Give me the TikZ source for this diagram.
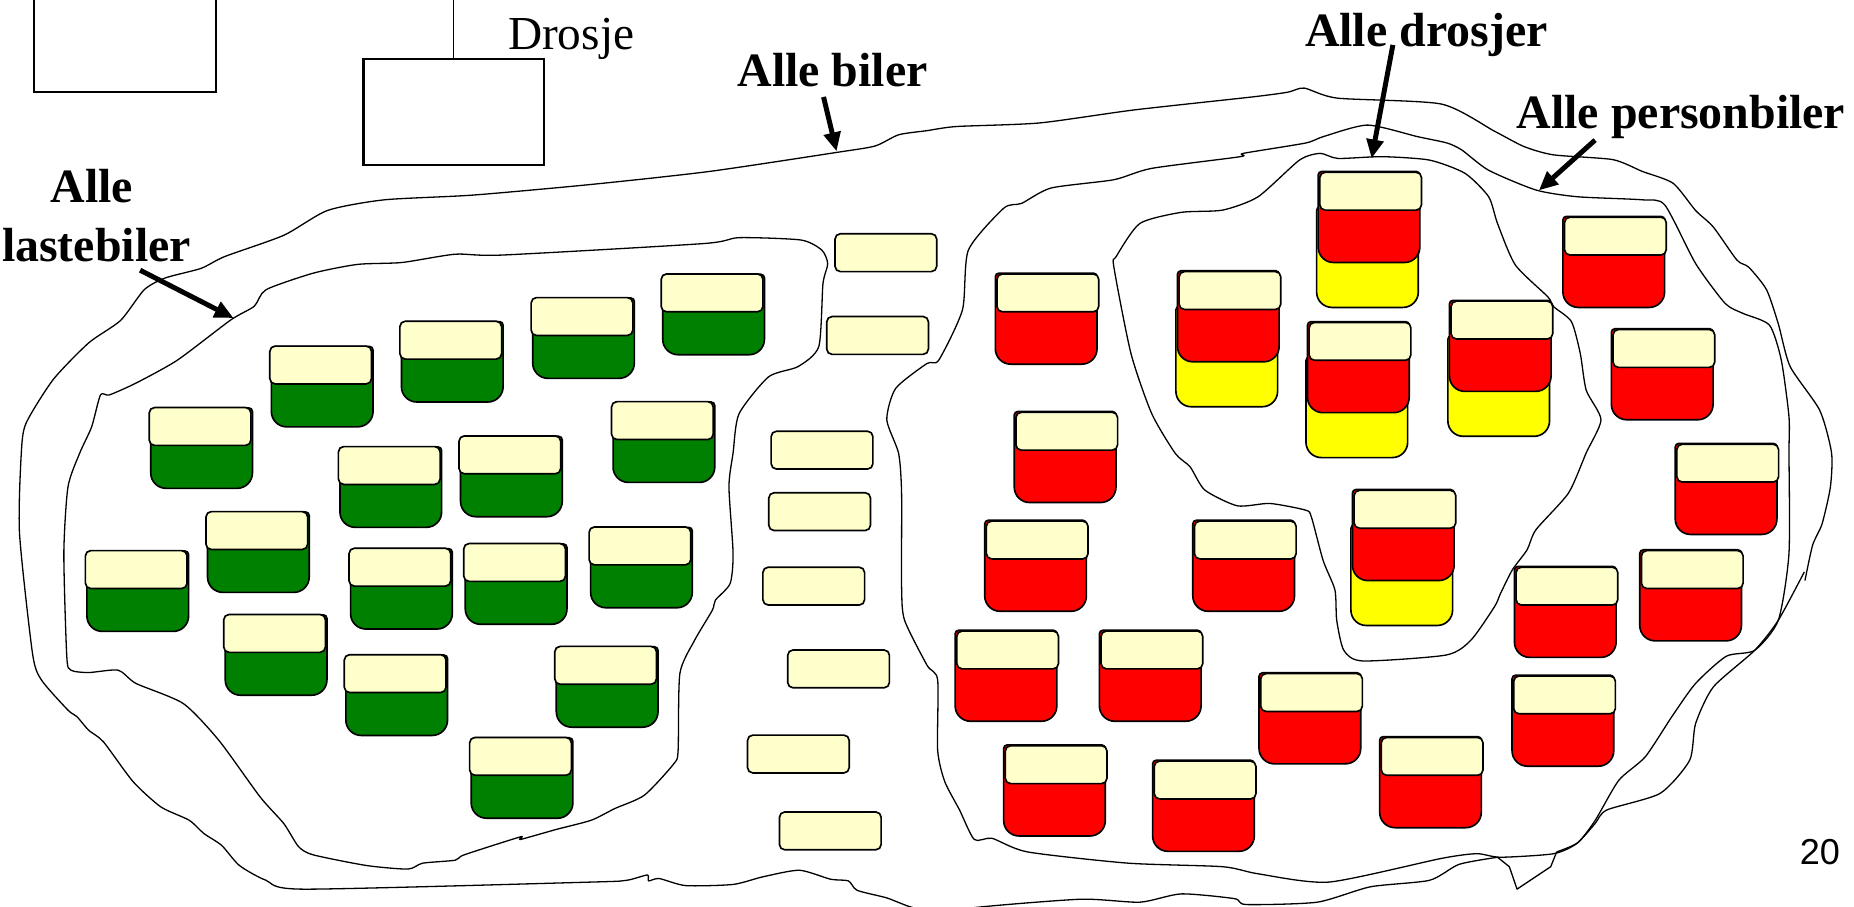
\documentclass[tikz,border=0pt]{standalone}
\usepackage{fontspec}
\setmainfont{Liberation Serif}
\newfontfamily\numfont{Liberation Sans}
\usetikzlibrary{arrows.meta}
\definecolor{creamc}{HTML}{FFFFCC}
\definecolor{greenc}{HTML}{008000}
\definecolor{redc}{HTML}{FF0000}
\definecolor{yellowc}{HTML}{FFFF00}
\newcommand{\carbody}[5]{% colour, x, y, width, height
  \filldraw[fill=#1,line width=1.4pt]
    (#2,{#3+30}) [rounded corners=13pt] -- (#2,{#3+#5}) -- ({#2+#4},{#3+#5}) -- ({#2+#4},{#3+30})
    [rounded corners=3pt] -- ({#2+#4},#3) -- (#2,#3) -- cycle;}
\newcommand{\creambox}[3]{\node[creambx] (#1) at ({#2-0.5},#3) {};}
\tikzset{
  creambx/.style={draw=black,fill=creamc,line width=1.4pt,rounded corners=4.5pt,anchor=north west,
    inner sep=0pt,minimum width=86pt,minimum height=32pt},
  blob/.style={draw=black,line width=1.1pt,line join=round},
  frame/.style={draw=black,line width=1.8pt},
  callout/.style={anchor=base west,inner sep=0pt,font=\fontsize{40.5}{40.5}\selectfont\bfseries},
  pointer/.style={draw=black,line width=4.2pt,-{Triangle[length=16pt,width=14pt]}}
}
\begin{document}
\begin{tikzpicture}[x=1pt,y=-1pt]
\useasboundingbox (0,0) rectangle (1568,767);
\clip (0,0) rectangle (1568,767);
\fill[white] (0,0) rectangle (1568,767);
% class boxes
\draw[frame] (29,-20) rectangle (183,78);
\node[draw=black,line width=1.8pt,anchor=north west,inner sep=0pt,minimum width=153pt,minimum height=90pt] (taxibox) at (306.5,49) {};
\coordinate (up) at (taxibox.north |- 0,-5);
\draw[line width=0.9pt] (up) -- (taxibox.north);
\node[anchor=base west,inner sep=0pt,font=\fontsize{40}{40}\selectfont] (drosje) at (429.5,42) {Drosje};
% outer
\draw[blob] plot[smooth,tension=0.4] coordinates {(1526,483.6)(1504,524.5)(1484,550)(1449,581)(1434,612)(1429,643)(1404,671)(1359,685)(1349,696.5)(1334,713)(1316.5,720.5)};
\draw[blob] (1316.5,720.5) -- (1311.5,733) -- (1283,752) -- (1276.5,733) -- (1266.5,725);
\draw[blob] plot[smooth,tension=0.4] coordinates {(1266.5,725)(1234,731)(1209,744.5)(1159,750)(1114,763)(1054,765)(1044,760)(999,756)(964,763)(914,760.5)(824,767.6)(800,774)(770,767)(750,759.4)(725,753)(717.5,745)(702.5,743.6)(676,736)(645,741.6)(620,748)(580,749)(557.5,743)(548.5,745)(547.5,740)(530,744.5)(500,746)(257.5,752)(225,744.5)(202.5,732)(187.5,715)(172.5,705)(160,693.7)(136,682.4)(112.5,661)(87.5,627.4)(75,617.6)(65,606)(57.5,600.6)(35,575)(27.5,552.7)(16.5,451)(18,383.5)(22,358)(45,321)(75,290)(102,271)(122,245)(140,235)(170,227)(190,217)(240,199)(277,178)(325,169)(400,165)(500,156)(600,145)(707,129)(740,123.5)(760,114)(784,110.5)(809,107)(879,104)(959,93)(1059,82)(1089,78)(1103,74.5)(1131,83)(1219,88)(1264,111)(1289,124)(1314,131)(1364,135)(1389,145)(1415,155)(1434,178)(1449,192)(1469,220)(1479,226)(1494,245)(1504,274)(1514,310)(1539,347)(1549,383)(1548,412)(1541,443)(1533,461)(1526.5,491)};
% personbiler
\draw[blob] plot[smooth cycle,tension=0.4] coordinates {(784,562.6)(765,524.5)(762.5,496)(762.5,417)(760,383.5)(750,355)(757.5,328.5)(784,307.4)(794,304.5)(814,262)(819,211.5)(849,176)(864,172)(889,159)(942,152)(974,142.4)(1049,132.5)(1051.5,129.7)(1104,121)(1119,115.6)(1156.5,105.8)(1199,115.6)(1224,121)(1236.5,127)(1259,144)(1299,160.7)(1334,166.4)(1389,169)(1408,173.4)(1434,222.8)(1459,256.6)(1474,265)(1496.5,275)(1506.5,304.6)(1513,352.5)(1513,383)(1513,468)(1504,524.5)(1484,550)(1460,555)(1434,578)(1414,606)(1391.5,640)(1369,660)(1349,694)(1334,713)(1314,722)(1269,725)(1249,722)(1219,726)(1124,746)(1064,739)(1034,733)(954,730)(869,720.5)(839,709)(824,710)(811.5,685)(799,661)(793,634.5)(793,575)};
% drosjer
\draw[blob] plot[smooth cycle,tension=0.4] coordinates {(942,225.6)(944,217)(964,189)(999,179.6)(1034,177.7)(1064,166.4)(1099,135.4)(1116.5,129.7)(1131.5,134)(1169,132.5)(1209,135.4)(1239,146.6)(1259,166.4)(1266.5,189)(1281.5,224)(1309,251)(1314,259.4)(1329,272)(1336.5,299)(1341.5,330)(1354,355)(1341.5,383)(1326.5,417)(1299,448)(1291.5,465)(1279,482)(1269,502)(1264,513)(1244,541.4)(1223,554)(1152.5,559)(1136.5,550)(1130.5,524.5)(1129,499)(1119,474)(1109,437)(1104,431.4)(1074,425.8)(1046.5,427.8)(1019,414.5)(1006.5,394.8)(994,383.5)(974,349.7)(956.5,299)};
% lastebiler
\draw[blob] plot[smooth cycle,tension=0.4] coordinates {(620,383)(625,350)(650,318.7)(675,310)(692.5,293)(696,240)(700,223)(695,211.5)(677.5,203)(625,201)(595,206)(425,215.7)(385,215)(340,222)(302.5,223.6)(265,231)(225,245)(215,259)(195,270.7)(150,304.6)(115,324)(92.5,334)(85,334)(77.5,361)(67.5,383)(57.5,411.7)(54,468)(56.5,555.5)(60,566.8)(75,568.8)(100,566.8)(115,578)(155,595)(185,626)(220,674)(240,696.5)(252.5,716)(265,723)(310,732)(345,735)(357.5,730)(385,727.5)(392.5,723)(440,707.8)(440,710)(470,701.6)(500,693.7)(520,683.8)(545,672.5)(570,645.8)(573.5,634.5)(575,569.6)(587.5,541.4)(602.5,516)(605,507.6)(617.5,493.5)(620,468)(616.5,411.7)};
% green cars
\foreach \x/\y [count=\i] in {559/231,449/251,338/271,228/292,126/344,517/339,286/377,388/368,174/432,72/465,295/463,392/459,498/445,189/519,291/553,469/546,397/623}{
  \carbody{greenc}{\x+1.5}{\y+1}{86}{68}
  \creambox{g\i}{\x}{\y}
}
% red cars
\foreach \x/\y [count=\i] in {843/231,859/348,834/440,1010/440,809/533,931/533,1066/569,850/630,976/643,1168/623,1280/571,1282/479,1388/465,1418/375,1364/278,1323/183}{
  \carbody{redc}{\x-1.2}{\y}{86}{77}
  \creambox{r\i}{\x}{\y}
}
% taxis
\foreach \x/\y [count=\i] in {1116/145,997/229,1107/272,1227/254,1145/414}{
  \carbody{yellowc}{\x-2.5}{\y+30}{86}{85}
  \carbody{redc}{\x-1.2}{\y}{86}{77}
  \creambox{t\i}{\x}{\y}
}
% plain
\foreach \x/\y [count=\i] in {706/197,699/267,652/364,650/416,645/479,666/549,632/621,659/686}{
  \creambox{p\i}{\x}{\y}
}
% labels
\node[callout] (lbiler) at (623.5,73.5) {Alle biler};
\node[callout] (ldrosjer) at (1103.5,39) {Alle drosjer};
\node[callout] (lperson) at (1282.5,109) {Alle personbiler};
\node[callout] (lalle) at (42.5,171.5) {Alle};
\node[callout] (llaste) at (1.5,221) {lastebiler};
\node[anchor=base west,inner sep=0pt,font=\numfont\fontsize{30.5}{30.5}\selectfont] (pageno) at (1522,731.5) {20};
% pointers
\coordinate (a1) at (696.5,82); \coordinate (b1) at (707.5,128);
\coordinate (a2) at (1178,38); \coordinate (b2) at (1160,134);
\coordinate (a3) at (1349,118.5); \coordinate (b3) at (1301.5,161);
\coordinate (a4) at (118.5,228.5); \coordinate (b4) at (197.5,269);
\draw[pointer] (a1) -- (b1);
\draw[pointer] (a2) -- (b2);
\draw[pointer] (a3) -- (b3);
\draw[pointer] (a4) -- (b4);
\end{tikzpicture}
\end{document}
